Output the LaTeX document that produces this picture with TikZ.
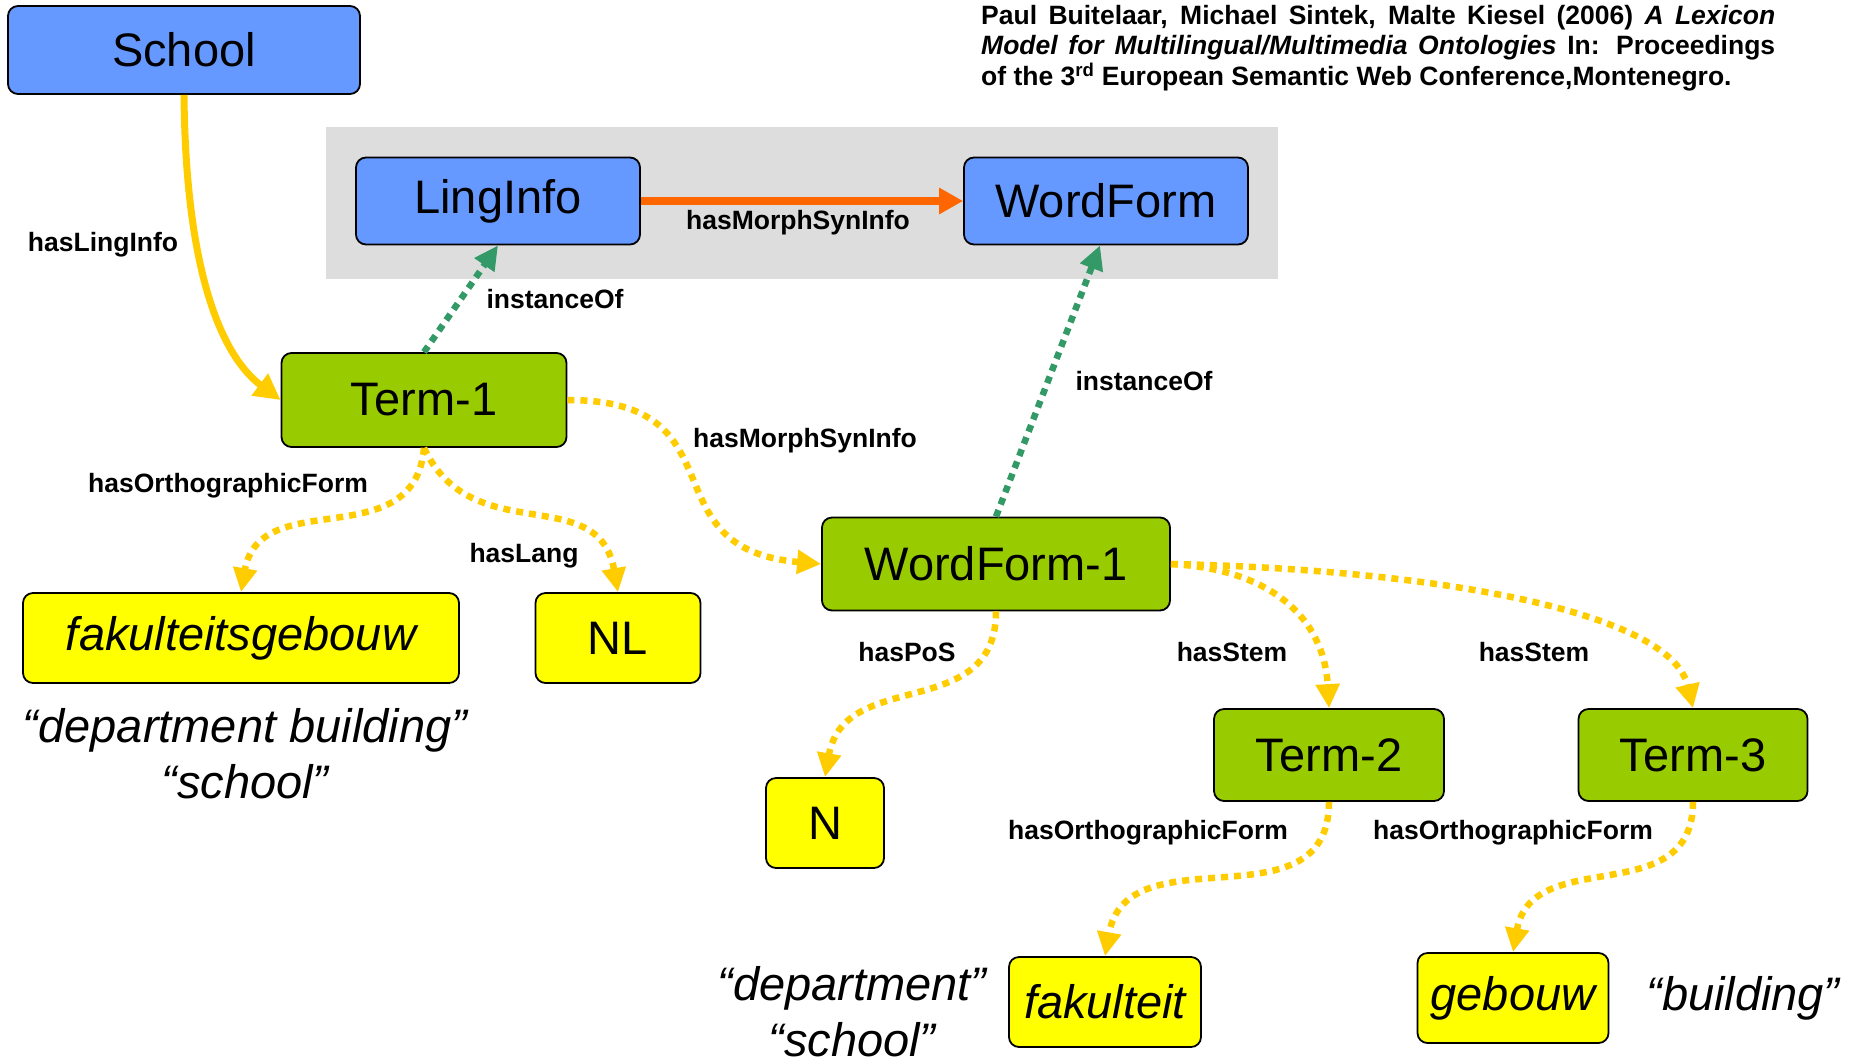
\documentclass[tikz,border=0pt]{standalone}
\usepackage{fontspec}
\setmainfont{Liberation Sans}
\usetikzlibrary{arrows.meta}
\definecolor{cblue}{HTML}{6699FF}
\definecolor{cgreen}{HTML}{99CC00}
\definecolor{cyellow}{HTML}{FFFF00}
\definecolor{cgray}{HTML}{DDDDDD}
\definecolor{corange}{HTML}{FF6600}
\definecolor{cgold}{HTML}{FFCC00}
\definecolor{cteal}{HTML}{339966}
\begin{document}
\begin{tikzpicture}[x=1pt,y=1pt,
  box/.style={draw=black, line width=1.8pt, rounded corners=10pt, inner sep=0pt, font=\fontsize{47}{50}\selectfont},
  bluebox/.style={box, fill=cblue},
  greenbox/.style={box, fill=cgreen},
  yellowbox/.style={box, fill=cyellow},
  lbl/.style={font=\fontsize{26.5}{30}\selectfont\bfseries, inner sep=0pt},
  gloss/.style={font=\fontsize{47}{56}\selectfont\itshape, inner sep=0pt, align=center},
  tip/.style={-{Triangle[length=24pt,width=23pt]}},
  goldsolid/.style={draw=cgold, line width=7pt, -{Triangle[length=26pt,width=26pt]}},
  orangearr/.style={draw=corange, line width=8pt, -{Triangle[length=24pt,width=25pt]}},
  golddot/.style={draw=cgold, line width=6.5pt, dash pattern=on 7pt off 6pt, tip},
  tealdot/.style={draw=cteal, line width=6.5pt, dash pattern=on 7pt off 6pt, tip}
]
\useasboundingbox (0,0) rectangle (1859,-1061);
\fill[white] (0,0) rectangle (1859,-1061);

% grey background
\node[fill=cgray, inner sep=0pt, minimum width=952pt, minimum height=152pt] (bg) at (802,-203) {};

% citation
\node[anchor=north west, inner sep=0pt, font=\fontsize{26.5}{30.5}\selectfont\bfseries, align=left] (cite) at (981,-5)
{\makebox[794pt][s]{Paul Buitelaar, Michael Sintek, Malte Kiesel (2006) \textit{A Lexicon}}\\
 \makebox[794pt][s]{\textit{Model for Multilingual/Multimedia Ontologies} In: Proceedings}\\
 of the 3\textsuperscript{rd} European Semantic Web Conference,Montenegro.};

% nodes
\node[bluebox, minimum width=352pt, minimum height=88pt] (school) at (184,-50) {School};
\node[bluebox, minimum width=284pt, minimum height=87pt] (linginfo) at (498,-201) {LingInfo};
\node[bluebox, minimum width=284pt, minimum height=87pt] (wordform) at (1106,-201) {WordForm};
\node[greenbox, minimum width=285pt, minimum height=94pt] (term1) at (424,-400) {Term-1};
\node[greenbox, minimum width=348pt, minimum height=93pt] (wordform1) at (996,-564) {WordForm-1};
\node[yellowbox, minimum width=436pt, minimum height=90pt] (fakgeb) at (241,-638) {\itshape fakulteitsgebouw};
\node[yellowbox, minimum width=165pt, minimum height=90pt] (nl) at (618,-638) {NL};
\node[yellowbox, minimum width=118pt, minimum height=90pt] (n) at (825,-823) {N};
\node[greenbox, minimum width=230pt, minimum height=92pt] (term2) at (1329,-755) {Term-2};
\node[greenbox, minimum width=229pt, minimum height=92pt] (term3) at (1693,-755) {Term-3};
\node[yellowbox, minimum width=192pt, minimum height=90pt] (fak) at (1105,-1002) {\itshape fakulteit};
\node[yellowbox, minimum width=191pt, minimum height=90pt] (geb) at (1513,-998) {\itshape gebouw};

% glosses
\node[gloss] (g1) at (245,-754) {“department building”\\“school”};
\node[gloss] (g2) at (852,-1012) {“department”\\“school”};
\node[gloss] (g3) at (1743,-998) {“building”};

% connectors
\draw[goldsolid] (school.south) .. controls +(2,-206) and +(-47,35) .. (term1.west);
\draw[orangearr] (linginfo.east) -- (wordform.west);
\draw[tealdot] (term1.north) -- (linginfo.south);
\draw[tealdot] (wordform1.north) -- ([xshift=-6pt]wordform.south);
\draw[golddot] (term1.east) to[out=0,in=175,looseness=1.5] (wordform1.west);
\draw[golddot] (term1.south) to[out=-95,in=80,looseness=1.2] (fakgeb.north);
\draw[golddot] (term1.south) to[out=-65,in=100,looseness=1.2] (nl.north);
\draw[golddot] (wordform1.south) to[out=-90,in=80,looseness=1.2] (n.north);
\draw[golddot] (wordform1.east) .. controls +(100,-5) and +(-5,90) .. (term2.north);
\draw[golddot] (wordform1.east) .. controls +(250,-5) and +(-23,99) .. (term3.north);
\draw[golddot] (term2.south) to[out=-90,in=80,looseness=1.2] (fak.north);
\draw[golddot] (term3.south) to[out=-90,in=80,looseness=1.2] (geb.north);

% labels
\node[lbl] (l1) at (103,-245) {hasLingInfo};
\node[lbl] (l2) at (798,-223) {hasMorphSynInfo};
\node[lbl] (l3) at (555,-299) {instanceOf};
\node[lbl] (l4) at (1144,-381) {instanceOf};
\node[lbl] (l5) at (805,-441) {hasMorphSynInfo};
\node[lbl] (l6) at (228,-486) {hasOrthographicForm};
\node[lbl] (l7) at (524,-556) {hasLang};
\node[lbl] (l8) at (907,-652) {hasPoS};
\node[lbl] (l9) at (1232,-652) {hasStem};
\node[lbl] (l10) at (1534,-652) {hasStem};
\node[lbl] (l11) at (1148,-833) {hasOrthographicForm};
\node[lbl] (l12) at (1513,-833) {hasOrthographicForm};
\end{tikzpicture}
\end{document}
